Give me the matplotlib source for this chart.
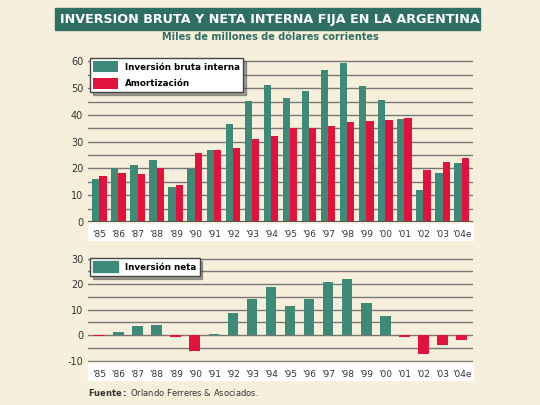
import matplotlib.pyplot as plt
import numpy as np
from matplotlib.patches import Rectangle

plt.rcParams['axes.unicode_minus'] = False

years = ["'85", "'86", "'87", "'88", "'89", "'90", "'91", "'92", "'93", "'94",
         "'95", "'96", "'97", "'98", "'99", "'00", "'01", "'02", "'03", "'04e"]
bruta = [16, 20, 21.3, 23.2, 13, 19.8, 27, 36.7, 45.3, 51.2,
         46.2, 49, 56.7, 59.5, 50.8, 45.7, 38.3, 11.8, 18.2, 22.1]
amort = [17.2, 18.2, 17.8, 20, 14, 25.7, 27, 27.8, 31.1, 32.2,
         35, 35, 35.9, 37.4, 37.8, 38.2, 39, 19.3, 22.3, 23.8]
neta = [-0.3, 1.2, 3.7, 4, -0.9, -6, 0.6, 8.6, 14, 18.7,
        11.3, 14, 21, 22, 12.5, 7.6, -0.6, -7.4, -4, -1.8]

TEAL = '#3d8a78'
RED = '#e3123c'
BG = '#f6efdc'
W, H = 540, 405

fig = plt.figure(figsize=(5.4, 4.05), dpi=100, facecolor=BG)
x = np.arange(len(years))

# title band
fig.patches.append(Rectangle((55 / W, 1 - 30 / H), 425 / W, 22 / H, transform=fig.transFigure,
                             color='#2f6e62', zorder=0))
fig.text(0.5, 1 - 19 / H, 'INVERSION BRUTA Y NETA INTERNA FIJA EN LA ARGENTINA', ha='center', va='center',
         color='white', fontsize=9.2, fontweight='bold')
fig.text(0.5, 1 - 37 / H, 'Miles de millones de dólares corrientes', ha='center', va='center',
         color='#2f6e62', fontsize=7, fontweight='bold')


def style(ax, ticks, strip_h):
    ax.set_facecolor(BG)
    for s in ax.spines.values():
        s.set_visible(False)
    ax.set_yticks(ticks)
    ax.set_yticks(np.arange(ticks[0], ticks[-1] + 1, 5), minor=True)
    ax.yaxis.grid(True, which='both', color='#777777', lw=1)
    ax.set_axisbelow(True)
    ax.tick_params(axis='y', length=0, labelsize=7, colors='#333333', which='both')
    ax.set_xlim(-0.6, len(years) - 0.4)
    ax.set_xticks(x)
    ax.set_xticklabels(years, fontsize=6.5, color='#333333')
    ax.tick_params(axis='x', length=0, pad=6)
    ax.add_patch(Rectangle((0, -strip_h - 0.015), 1, strip_h, transform=ax.transAxes,
                           color='white', clip_on=False, zorder=0))


# top panel
ax1 = fig.add_axes([88 / W, 1 - 222 / H, 385 / W, 166 / H])
w = 0.38
ax1.bar(x - w / 2, bruta, w, color=TEAL, label='Inversión bruta interna', zorder=3)
ax1.bar(x + w / 2, amort, w, color=RED, label='Amortización', zorder=3)
ax1.set_ylim(0, 62)
style(ax1, [0, 10, 20, 30, 40, 50, 60], 16 / 166)
ax1.axhline(0, color='#555555', lw=1.5, zorder=4)
leg = ax1.legend(loc='upper left', fontsize=6.3, frameon=True, fancybox=False, edgecolor='#444444',
                 handlelength=2.8, handleheight=1.6, borderaxespad=0.2, labelspacing=0.6, shadow=True)
for t in leg.get_texts():
    t.set_fontweight('bold')

# bottom panel
ax2 = fig.add_axes([88 / W, 1 - 362 / H, 385 / W, 106 / H])
cols = [TEAL if v >= 0 else RED for v in neta]
ax2.bar(x, neta, 0.55, color=cols, zorder=3)
ax2.set_ylim(-10.5, 31)
style(ax2, [-10, 0, 10, 20, 30], 16 / 106)
leg2 = ax2.legend([Rectangle((0, 0), 1, 1, color=TEAL)], ['Inversión neta'], loc='upper left', fontsize=6.3,
                  frameon=True, fancybox=False, edgecolor='#444444', handlelength=2.8, handleheight=1.6,
                  borderaxespad=0.2, shadow=True)
for t in leg2.get_texts():
    t.set_fontweight('bold')

fig.text(88 / W, 1 - 392 / H, r'$\bf{Fuente:}$ Orlando Ferreres & Asociados.', fontsize=6, color='#333333',
         va='center')

fig.savefig('out.png', dpi=100, facecolor=BG)
